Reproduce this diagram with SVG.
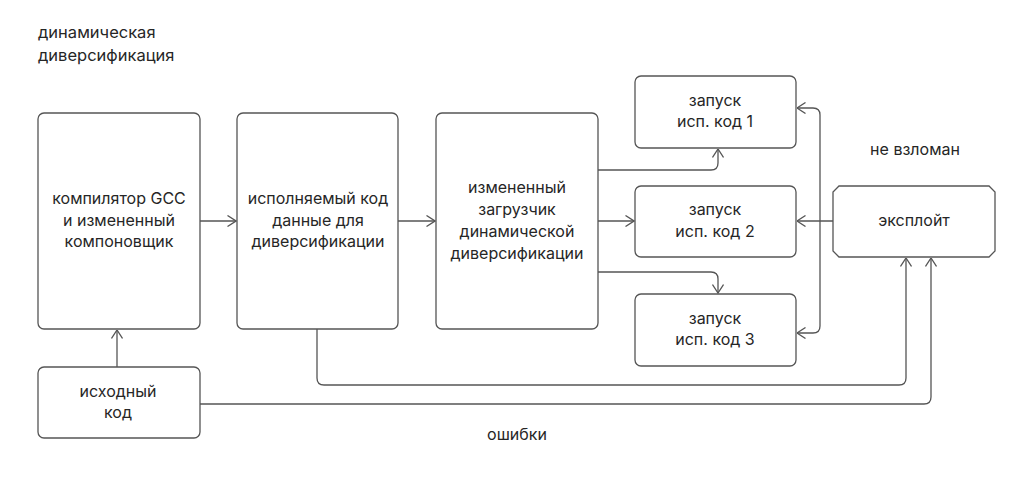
<svg xmlns="http://www.w3.org/2000/svg" width="1024" height="495" viewBox="0 0 1024 495">
<defs>
<marker id="ah" viewBox="0 0 10 12" refX="9.5" refY="6" markerWidth="10" markerHeight="12" markerUnits="userSpaceOnUse" orient="auto">
<path d="M1,0.5 L9.5,6 L1,11.5" fill="none" stroke="#555" stroke-width="1.3"/>
</marker>
</defs>
<style>
.box{fill:#fff;stroke:#555;stroke-width:1.3}
.t{font-family:Inter,"Noto Sans","Liberation Sans",sans-serif;font-size:16px;fill:#262626;text-anchor:middle}
.tl{font-family:Inter,"Noto Sans","Liberation Sans",sans-serif;font-size:16.5px;fill:#262626}
.c{fill:none;stroke:#555;stroke-width:1.3}
</style>
<rect width="1024" height="495" fill="#fff"/>
<g id="title">
<text class="tl" x="38" y="38">динамическая</text>
<text class="tl" x="38" y="61">диверсификация</text>
</g>
<g id="connectors">
<path class="c" d="M117,367 V330" marker-end="url(#ah)"/>
<path class="c" d="M200,221 H236" marker-end="url(#ah)"/>
<path class="c" d="M398,221 H435" marker-end="url(#ah)"/>
<path class="c" d="M598,170 H711 Q718,170 718,163 V149" marker-end="url(#ah)"/>
<path class="c" d="M598,221 H634" marker-end="url(#ah)"/>
<path class="c" d="M598,272 H711 Q718,272 718,279 V293" marker-end="url(#ah)"/>
<path class="c" d="M833,221 H797" marker-end="url(#ah)"/>
<path class="c" d="M820,221 V115 Q820,108 813,108 H797" marker-end="url(#ah)"/>
<path class="c" d="M820,221 V326 Q820,333 813,333 H797" marker-end="url(#ah)"/>
<path class="c" d="M317,329 V378 Q317,385 324,385 H899 Q906,385 906,378 V258" marker-end="url(#ah)"/>
<path class="c" d="M200,404 H924 Q931,404 931,397 V258" marker-end="url(#ah)"/>
</g>
<g id="compiler">
<rect class="box" x="38" y="113" width="162" height="216" rx="6"/>
<text class="t" x="119" y="204">компилятор GCC</text>
<text class="t" x="119" y="226">и измененный</text>
<text class="t" x="119" y="247">компоновщик</text>
</g>
<g id="executable">
<rect class="box" x="237" y="113" width="161" height="216" rx="6"/>
<text class="t" x="318" y="204">исполняемый код</text>
<text class="t" x="318" y="226">данные для</text>
<text class="t" x="318" y="247">диверсификации</text>
</g>
<g id="loader">
<rect class="box" x="436" y="113" width="162" height="216" rx="6"/>
<text class="t" x="517" y="193">измененный</text>
<text class="t" x="517" y="215">загрузчик</text>
<text class="t" x="517" y="237">динамической</text>
<text class="t" x="517" y="259">диверсификации</text>
</g>
<g id="source">
<rect class="box" x="38" y="367" width="162" height="71" rx="6"/>
<text class="t" x="118" y="397">исходный</text>
<text class="t" x="118" y="418">код</text>
</g>
<g id="run1">
<rect class="box" x="635" y="76" width="161" height="72" rx="6"/>
<text class="t" x="715" y="106">запуск</text>
<text class="t" x="715" y="127">исп. код 1</text>
</g>
<g id="run2">
<rect class="box" x="635" y="186" width="161" height="71" rx="6"/>
<text class="t" x="715" y="215">запуск</text>
<text class="t" x="715" y="237">исп. код 2</text>
</g>
<g id="run3">
<rect class="box" x="635" y="294" width="161" height="72" rx="6"/>
<text class="t" x="715" y="324">запуск</text>
<text class="t" x="715" y="345">исп. код 3</text>
</g>
<g id="exploit">
<path class="box" d="M839,186 H989 L995,192 V251 L989,257 H839 L833,251 V192 Z"/>
<text class="t" x="914" y="226">эксплойт</text>
</g>
<g id="labels">
<text class="t" x="915" y="155">не взломан</text>
<text class="t" x="517" y="440">ошибки</text>
</g>
</svg>
